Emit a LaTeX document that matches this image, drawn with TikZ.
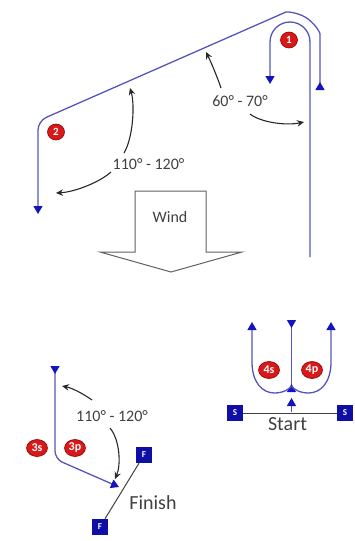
\documentclass[tikz,border=0pt]{standalone}
\usepackage{fontspec}
\setmainfont{Carlito}
\usetikzlibrary{arrows.meta,shapes.geometric}
\definecolor{pathblue}{RGB}{85,85,190}
\definecolor{tipblue}{RGB}{20,20,190}
\definecolor{markred}{RGB}{215,25,25}
\definecolor{boxblue}{RGB}{15,15,165}
\definecolor{txtgray}{RGB}{64,64,64}
\definecolor{angblack}{RGB}{40,40,40}
\tikzset{
  trf/.tip={Triangle[width=9pt,length=8pt,color=tipblue]},
  trr/.tip={Triangle[width=9pt,length=8pt,color=tipblue,reversed]},
  course/.style={draw=pathblue,line width=1.3pt},
  ang/.style={draw=angblack,line width=1.1pt,-{Stealth[length=7pt,width=6.5pt]}},
  markc/.style={ellipse,fill=markred,draw=red!55!black,line width=0.6pt,text=white,
    font=\bfseries\fontsize{11}{11}\selectfont,inner sep=0pt,minimum width=17pt,minimum height=16pt},
  marke/.style={markc,font=\bfseries\fontsize{12}{12}\selectfont,minimum width=21pt,minimum height=17pt},
  sq/.style={rectangle,fill=boxblue,text=white,font=\bfseries\fontsize{9}{9}\selectfont,
    minimum size=16pt,inner sep=0pt},
  finline/.style={draw=txtgray,line width=1pt},
  lbl/.style={text=txtgray,font=\fontsize{16}{18}\selectfont,inner sep=0pt,anchor=base},
  lblbig/.style={lbl,font=\fontsize{20}{22}\selectfont},
  windarrow/.style={draw=gray!75!black,line width=1pt,line join=miter}
}
\begin{document}
\begin{tikzpicture}[x=1pt,y=-1pt]
\useasboundingbox (0,0) rectangle (354,541);

% top course
\draw[course,{trr}-{trf},rounded corners=9pt] (320,90) -- (320,43)
  arc[start angle=0,end angle=-113.8,radius=30] -- (38,121) -- (38,214);
\draw[course,-{trf}] (310,257) -- (310,42) arc[start angle=0,end angle=-180,radius=20] -- (270,84);

\node[markc] (m1) at (289,40) {1};
\node[markc] (m2) at (56,132) {2};

% angle labels top
\node[lbl] (a1) at (240,106) {60° - 70°};
\node[lbl] (a2) at (148.5,169.5) {110° - 120°};
\draw[ang] (221,88) .. controls (217,76) and (210,60) .. (206,52);
\draw[ang] (250,114) .. controls (260,122) and (285,126) .. (304,122);
\draw[ang] (124,153) .. controls (133,138) and (135,105) .. (130,88);
\draw[ang] (111,172) .. controls (100,182) and (75,192) .. (56,193);

% wind arrow
\draw[windarrow] (135,191) -- (206,191) -- (206,252) -- (242,252) -- (171,272)
  -- (100,252) -- (135,252) -- cycle;
\node[lbl] (w) at (170,222) {Wind};

% start group
\node[sq] (S1) at (235,413) {S};
\node[sq] (S2) at (345,413) {S};
\draw[finline] (S1) -- (S2);
\node[lblbig] (st) at (287.5,430) {Start};
\draw[course,{trr}-{trr}] (291.5,320) -- (291.5,392);
\draw[course,-{trf}] (291.5,412) -- (291.5,398);
\draw[course,-{trf}] (291.5,386) .. controls (289.5,389) and (283.5,393) .. (274.5,393)
  .. controls (262,393) and (252,382) .. (252,362) -- (252,322);
\draw[course,-{trf}] (291.5,386) .. controls (293.5,389) and (299.5,393) .. (308.5,393)
  .. controls (321,393) and (331,382) .. (331,362) -- (331,322);
\node[marke] (m4s) at (269,370) {4s};
\node[marke] (m4p) at (312,370) {4p};

% finish group
\draw[course,{trr}-{trf},rounded corners=8pt] (55,366) -- (55,459) -- (119,487);
\node[marke] (m3s) at (37,448) {3s};
\node[marke] (m3p) at (75,448) {3p};
\node[sq] (F1) at (144,455) {F};
\node[sq] (F2) at (100,527) {F};
\draw[finline] (F1) -- (F2);
\node[lblbig] (fi) at (153,509) {Finish};
\node[lbl] (a3) at (112,421) {110° - 120°};
\draw[ang] (92,400) .. controls (82,393) and (72,388) .. (62,386);
\draw[ang] (110,428) .. controls (120,440) and (121,465) .. (115,479);
\end{tikzpicture}
\end{document}
